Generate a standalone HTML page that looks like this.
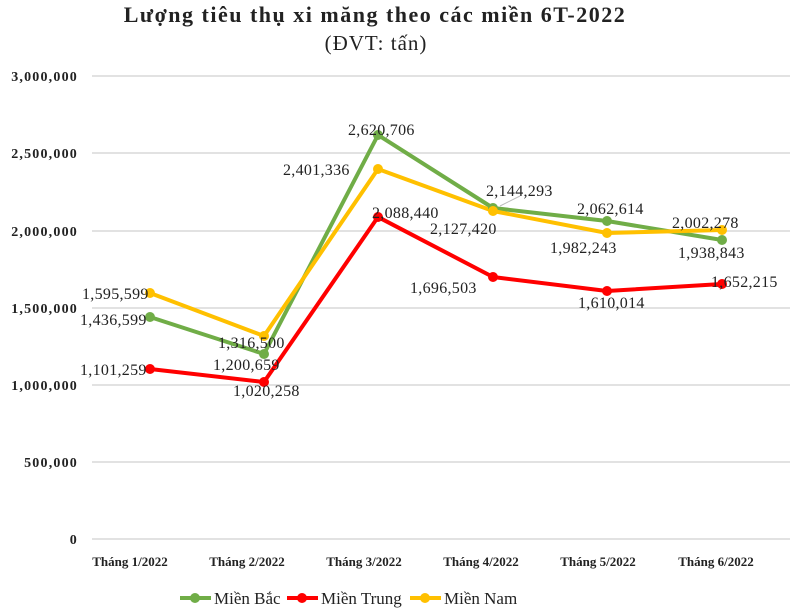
<!DOCTYPE html>
<html><head><meta charset="utf-8"><style>
body{margin:0;background:#fff}
svg{display:block}
text{font-family:"Liberation Serif",serif;fill:#222}
</style></head><body>
<svg width="800" height="613" xmlns="http://www.w3.org/2000/svg">
<text x="375" y="22" text-anchor="middle" font-size="22" font-weight="bold" letter-spacing="1.5">Lượng tiêu thụ xi măng theo các miền 6T-2022</text>
<text x="376" y="50" text-anchor="middle" font-size="21" letter-spacing="1">(ĐVT: tấn)</text>
<g stroke="#d9d9d9" stroke-width="1.5">
<line x1="92" y1="76" x2="790" y2="76"/><line x1="92" y1="153" x2="790" y2="153"/>
<line x1="92" y1="231" x2="790" y2="231"/><line x1="92" y1="308" x2="790" y2="308"/>
<line x1="92" y1="385" x2="790" y2="385"/><line x1="92" y1="462" x2="790" y2="462"/>
<line x1="92" y1="539" x2="790" y2="539"/></g>
<g font-size="14" font-weight="bold" text-anchor="end" letter-spacing="1.2">
<text x="78" y="81">3,000,000</text><text x="78" y="158">2,500,000</text><text x="78" y="236">2,000,000</text>
<text x="78" y="313">1,500,000</text><text x="78" y="390">1,000,000</text><text x="78" y="467">500,000</text><text x="78" y="544">0</text></g>
<g font-size="13" font-weight="bold" text-anchor="middle">
<text x="130" y="566">Tháng 1/2022</text><text x="247" y="566">Tháng 2/2022</text><text x="364" y="566">Tháng 3/2022</text>
<text x="481" y="566">Tháng 4/2022</text><text x="598" y="566">Tháng 5/2022</text><text x="716" y="566">Tháng 6/2022</text></g>
<g fill="none" stroke-width="4" stroke-linejoin="round">
<polyline stroke="#70ad47" points="150,317 264,354 378,135 493,208 607,221 722,240"/>
<polyline stroke="#ff0000" points="150,369 264,382 378,217 493,277 607,291 722,284"/>
<polyline stroke="#ffc000" points="150,293 264,336 378,169 493,211 607,233 722,230"/></g>
<g fill="#70ad47"><circle cx="150" cy="317" r="5"/><circle cx="264" cy="354" r="5"/><circle cx="378" cy="135" r="5"/><circle cx="493" cy="208" r="5"/><circle cx="607" cy="221" r="5"/><circle cx="722" cy="240" r="5"/></g>
<g fill="#ff0000"><circle cx="150" cy="369" r="5"/><circle cx="264" cy="382" r="5"/><circle cx="378" cy="217" r="5"/><circle cx="493" cy="277" r="5"/><circle cx="607" cy="291" r="5"/><circle cx="722" cy="284" r="5"/></g>
<g fill="#ffc000"><circle cx="150" cy="293" r="5"/><circle cx="264" cy="336" r="5"/><circle cx="378" cy="169" r="5"/><circle cx="493" cy="211" r="5"/><circle cx="607" cy="233" r="5"/><circle cx="722" cy="230" r="5"/></g>
<line x1="500" y1="206" x2="520" y2="196" stroke="#bbb" stroke-width="1"/>
<g font-size="16" letter-spacing="0.3">
<text x="82" y="299">1,595,599</text><text x="80" y="325">1,436,599</text><text x="80" y="375">1,101,259</text>
<text x="218" y="348">1,316,500</text><text x="213" y="370">1,200,659</text><text x="233" y="396">1,020,258</text>
<text x="348" y="135">2,620,706</text><text x="283" y="175">2,401,336</text><text x="372" y="218">2,088,440</text>
<text x="486" y="196">2,144,293</text><text x="430" y="234">2,127,420</text><text x="410" y="293">1,696,503</text>
<text x="577" y="214">2,062,614</text><text x="550" y="253">1,982,243</text><text x="578" y="308">1,610,014</text>
<text x="672" y="228">2,002,278</text><text x="678" y="258">1,938,843</text><text x="711" y="287">1,652,215</text></g>
<g stroke-width="4"><line x1="180" y1="598" x2="211" y2="598" stroke="#70ad47"/><line x1="287" y1="598" x2="318" y2="598" stroke="#ff0000"/><line x1="410" y1="598" x2="441" y2="598" stroke="#ffc000"/></g>
<circle cx="195" cy="598" r="5" fill="#70ad47"/><circle cx="302" cy="598" r="5" fill="#ff0000"/><circle cx="425" cy="598" r="5" fill="#ffc000"/>
<g font-size="17"><text x="214" y="604">Miền Bắc</text><text x="321" y="604">Miền Trung</text><text x="444" y="604">Miền Nam</text></g>
</svg></body></html>
